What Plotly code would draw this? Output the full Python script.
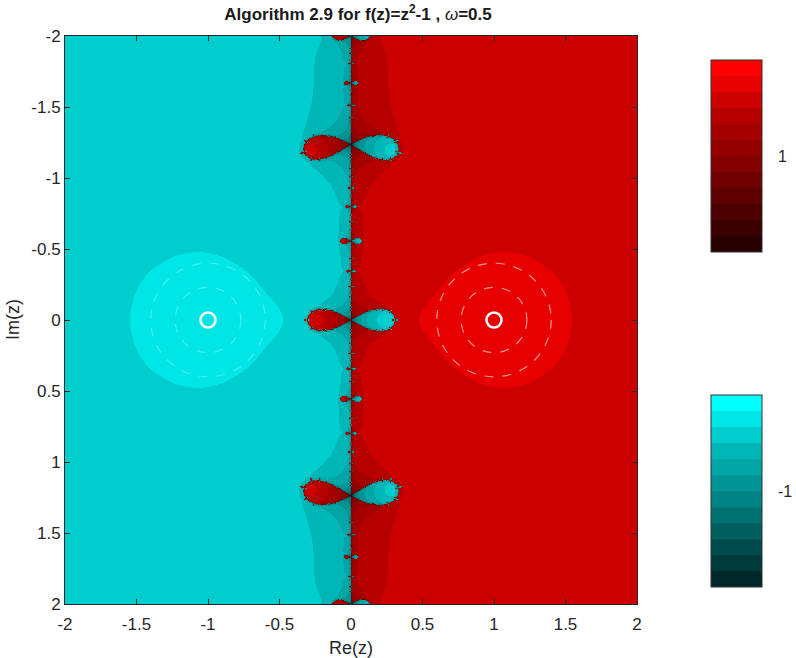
import numpy as np
import plotly.graph_objects as go

# ---- chart parameters / data ----
omega = 0.5
roots = [1, -1]
root_labels = ["1", "-1"]
x_ticks = [-2, -1.5, -1, -0.5, 0, 0.5, 1, 1.5, 2]
y_ticks = [-2, -1.5, -1, -0.5, 0, 0.5, 1, 1.5, 2]
x_tick_text = ["-2", "-1.5", "-1", "-0.5", "0", "0.5", "1", "1.5", "2"]
y_tick_text = ["-2", "-1.5", "-1", "-0.5", "0", "0.5", "1", "1.5", "2"]
shade_levels = [40, 58, 76, 95, 113, 131, 148, 165, 182, 205, 230, 255]
ring_radii = [0.23, 0.40]
grid_n = 560
max_iter = 40
tol = 1e-3

xs = np.linspace(-2, 2, grid_n)
ys = np.linspace(-2, 2, grid_n)
X, Y = np.meshgrid(xs, ys)


def step(z):
    f = z * z - 1
    d = 2 * z
    y = z - f / d
    return y - omega * (y * y - 1) / d


z = X + 1j * Y
n_it = np.full(z.shape, max_iter, float)
which = np.zeros(z.shape)
done = np.zeros(z.shape, bool)
with np.errstate(all="ignore"):
    for k in range(1, max_iter + 1):
        z = np.where(done, z, step(z))
        for r in roots:
            hit = (~done) & (np.abs(z - r) < tol)
            which[hit] = r
            n_it[hit] = k
            done |= hit
which[~done] = 1

nb = len(shade_levels)
band = 8 - np.floor((n_it - 6) / 2)
band[n_it <= 5] = 9
band[n_it <= 2] = 10
band = np.clip(band, 0, 10)
val = (band + 0.5) / nb

z_red = np.where(which == 1, val, np.nan)
z_cyan = np.where(which == -1, val, np.nan)


def discrete_scale(rgb_fn):
    sc = []
    for i, s in enumerate(shade_levels):
        c = rgb_fn(s)
        sc.append([i / nb, c])
        sc.append([(i + 1) / nb, c])
    return sc


red_scale = discrete_scale(lambda s: f"rgb({s},0,0)")
cyan_scale = discrete_scale(lambda s: f"rgb(0,{s},{s})")

FONT = "Liberation Sans, Arial, Helvetica, sans-serif"
TXT = "#262626"

# plot area pixels
L, R, T, B = 65, 637, 36, 604
W, H = 796, 658
pw, ph = R - L, B - T

cbar_boxes = [(60, 252), (395, 587)]


def cb(y_top, y_bot):
    return dict(
        x=(711 - L) / pw, xanchor="left", xpad=0,
        y=(B - (y_top + y_bot) / 2) / ph, yanchor="middle", ypad=0,
        len=y_bot - y_top, lenmode="pixels", thickness=51, thicknessmode="pixels",
        outlinewidth=1, outlinecolor="#333333", showticklabels=False, ticks="",
    )


fig = go.Figure()
fig.add_trace(go.Heatmap(x=xs, y=ys, z=z_red, colorscale=red_scale, zmin=0, zmax=1,
                         colorbar=cb(*cbar_boxes[0]), hoverinfo="skip"))
fig.add_trace(go.Heatmap(x=xs, y=ys, z=z_cyan, colorscale=cyan_scale, zmin=0, zmax=1,
                         colorbar=cb(*cbar_boxes[1]), hoverinfo="skip"))

# colorbar labels (root values)
for (yt, yb), lab in zip(cbar_boxes, root_labels):
    fig.add_annotation(xref="paper", yref="paper", x=(776 - L) / pw, y=(B - (yt + yb) / 2) / ph,
                       xanchor="left", yanchor="middle", showarrow=False, text=lab,
                       font=dict(family=FONT, size=16, color=TXT))

# y axis title
fig.add_annotation(xref="paper", yref="paper", x=(13 - L) / pw, y=0.5, xanchor="center", yanchor="middle",
                   showarrow=False, text="Im(z)", textangle=-90, font=dict(family=FONT, size=18, color=TXT))

ring_colors = {1: "rgba(255,185,185,0.8)", -1: "rgba(150,250,250,0.45)"}
for r in roots:
    for rad in ring_radii:
        fig.add_shape(type="circle", xref="x", yref="y", x0=r - rad, x1=r + rad, y0=-rad, y1=rad,
                      line=dict(color=ring_colors[r], width=1.2, dash="dash"), layer="above")

fig.add_trace(go.Scatter(x=roots, y=[0, 0], mode="markers", showlegend=False, hoverinfo="skip",
                         marker=dict(symbol="circle-open", size=15, color="white", line=dict(width=2.5, color="white"))))

axis_common = dict(
    showline=True, linecolor=TXT, linewidth=1, mirror="ticks", ticks="inside", ticklen=5,
    tickcolor=TXT, showgrid=False, zeroline=False,
    tickfont=dict(family=FONT, size=17, color=TXT),
)
fig.update_xaxes(range=[-2, 2], tickvals=x_ticks, ticktext=x_tick_text, ticklabelstandoff=5,
                 title=dict(text="Re(z)", font=dict(family=FONT, size=18, color=TXT), standoff=8),
                 **axis_common)
fig.update_yaxes(range=[2, -2], tickvals=y_ticks, ticktext=y_tick_text, **axis_common)

fig.update_layout(
    width=W, height=H, margin=dict(l=L, r=W - R, t=T, b=H - B, autoexpand=False),
    paper_bgcolor="white", plot_bgcolor="white", showlegend=False,
    title=dict(text="<b>Algorithm 2.9 for f(z)=z<sup>2</sup>-1 , </b><i>ω</i><b>=0.5</b>",
               x=358 / W, xanchor="center", y=1 - 14 / H, yanchor="middle",
               font=dict(family=FONT, size=17, color="#1a1a1a")),
)
fig.write_html("out.html")
